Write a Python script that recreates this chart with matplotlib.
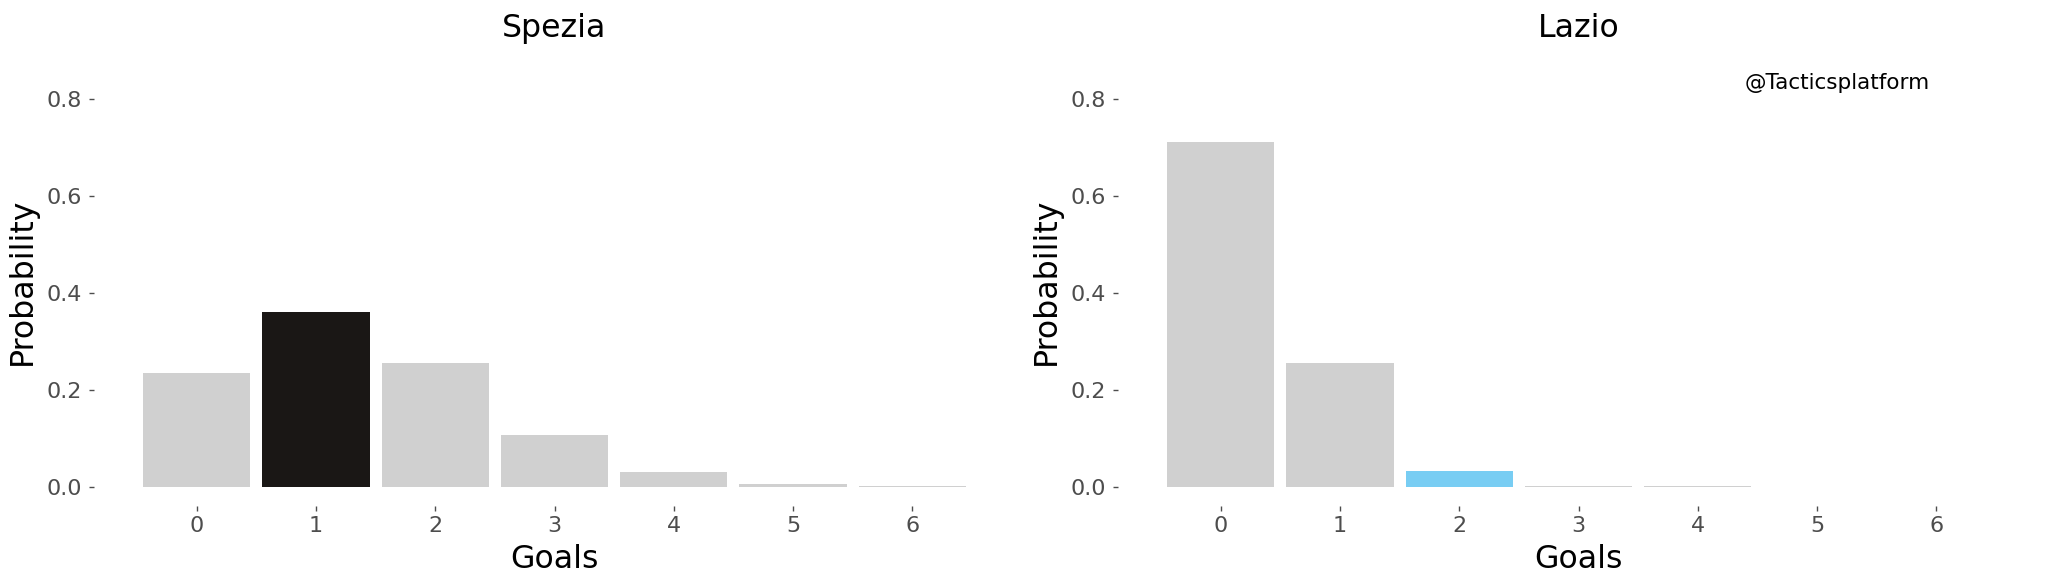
import matplotlib
matplotlib.use("Agg")
import matplotlib.pyplot as plt

goals = [0, 1, 2, 3, 4, 5, 6]
goal_labels = ["0", "1", "2", "3", "4", "5", "6"]
spezia_prob = [0.236, 0.361, 0.255, 0.107, 0.031, 0.007, 0.0015]
lazio_prob = [0.711, 0.255, 0.033, 0.003, 0.0015, 0.0, 0.0]
spezia_highlight = 1
lazio_highlight = 2
teams = ["Spezia", "Lazio"]
yticks = [0.0, 0.2, 0.4, 0.6, 0.8]
ytick_labels = ["0.0", "0.2", "0.4", "0.6", "0.8"]

GREY = "#d0d0d0"
colors_hl = ["#1a1715", "#78cdf3"]
TICK_C = "#4d4d4d"

W, H = 2048, 586
fig = plt.figure(figsize=(W / 100, H / 100), dpi=100)
plt.rcParams['font.family'] = ['DejaVu Sans']

series = [spezia_prob, lazio_prob]
highlights = [spezia_highlight, lazio_highlight]

top_px, bot_px = 79.6, 506.4

for i in range(2):
    off = i * 1024
    ax = fig.add_axes([(94 + off) / W, (H - bot_px) / H, (1015 - 94) / W, (bot_px - top_px) / H])
    cols = [colors_hl[i] if g == highlights[i] else GREY for g in goals]
    ax.bar(goals, series[i], width=0.9, color=cols, linewidth=0)
    ax.set_xlim(-0.86, 6.86)
    ax.set_ylim(-0.04, 0.84)
    ax.set_xticks(goals)
    ax.set_xticklabels(goal_labels)
    ax.set_yticks(yticks)
    ax.set_yticklabels(ytick_labels)
    for s in ax.spines.values():
        s.set_visible(False)
    ax.tick_params(axis='both', length=3.6, width=1.0, color=TICK_C,
                   labelcolor=TICK_C, labelsize=16)
    ax.tick_params(axis='y', pad=5)
    ax.tick_params(axis='x', pad=3.6)
    cx = (554.5 + off) / W
    fig.text(cx, (H - 37) / H, teams[i], ha='center', va='baseline', fontsize=22.7, color='black')
    fig.text(cx, (H - 568) / H, "Goals", ha='center', va='baseline', fontsize=22.7, color='black')
    fig.text((22 + off) / W, (H - 281) / H, "Probability", ha='center', va='center',
             rotation=90, fontsize=22.7, color='black')

fig.text(1837.5 / W, (H - 83) / H, "@Tacticsplatform", ha='center', va='center',
         fontsize=15.5, color='black')

fig.savefig("out.png", dpi=100, facecolor='white')
